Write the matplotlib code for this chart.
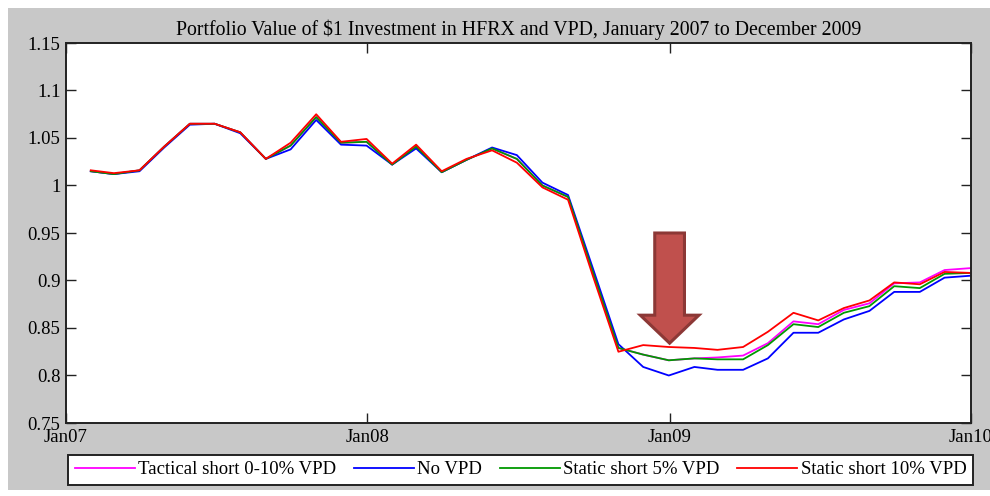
import numpy as np
import pandas as pd
import matplotlib
matplotlib.use("Agg")
import matplotlib.pyplot as plt
import matplotlib.dates as mdates
import matplotlib.patches as mpatches

plt.rcParams['font.family'] = ['Liberation Serif', 'DejaVu Serif']

# Month-end dates Jan 2007 .. Dec 2009
dates = pd.date_range("2007-01-31", "2009-12-31", freq="ME")

no_vpd = [1.015, 1.012, 1.015, 1.040, 1.064, 1.065, 1.055, 1.028, 1.038, 1.069,
          1.043, 1.042, 1.022, 1.039, 1.014, 1.027, 1.040, 1.032, 1.003, 0.990,
          0.913, 0.833, 0.809, 0.800, 0.809, 0.806, 0.806, 0.818, 0.845, 0.845,
          0.859, 0.868, 0.888, 0.888, 0.903, 0.905]
static_5 = [1.015, 1.012, 1.016, 1.041, 1.065, 1.065, 1.056, 1.028, 1.042, 1.072,
            1.045, 1.046, 1.022, 1.041, 1.014, 1.027, 1.039, 1.028, 1.000, 0.988,
            0.909, 0.829, 0.822, 0.816, 0.818, 0.817, 0.817, 0.832, 0.854, 0.851,
            0.866, 0.873, 0.894, 0.892, 0.907, 0.908]
static_10 = [1.016, 1.013, 1.016, 1.041, 1.065, 1.065, 1.056, 1.028, 1.045, 1.075,
             1.046, 1.049, 1.023, 1.043, 1.015, 1.028, 1.037, 1.024, 0.998, 0.985,
             0.905, 0.825, 0.832, 0.830, 0.829, 0.827, 0.830, 0.846, 0.866, 0.858,
             0.871, 0.879, 0.898, 0.896, 0.909, 0.908]
tactical = [1.015, 1.012, 1.016, 1.041, 1.065, 1.065, 1.056, 1.028, 1.042, 1.072,
            1.045, 1.046, 1.022, 1.041, 1.014, 1.027, 1.039, 1.028, 1.000, 0.988,
            0.909, 0.829, 0.822, 0.816, 0.818, 0.819, 0.821, 0.834, 0.857, 0.854,
            0.869, 0.876, 0.897, 0.898, 0.911, 0.913]

series = [
    ("Tactical short 0-10% VPD", tactical, "#FF00FF"),
    ("No VPD", no_vpd, "#0000FF"),
    ("Static short 5% VPD", static_5, "#009900"),
    ("Static short 10% VPD", static_10, "#FF0000"),
]

x_ticks = pd.to_datetime(["2007-01-01", "2008-01-01", "2009-01-01", "2010-01-01"])
x_labels = ["Jan07", "Jan08", "Jan09", "Jan10"]
y_ticks = [0.75, 0.8, 0.85, 0.9, 0.95, 1, 1.05, 1.1, 1.15]
y_labels = ["0.75", "0.8", "0.85", "0.9", "0.95", "1", "1.05", "1.1", "1.15"]

fig = plt.figure(figsize=(9.9, 4.96), dpi=100, facecolor="white")
# gray panel behind everything
fig.patches.append(mpatches.Rectangle((8 / 990, 6 / 496), 1 - 8 / 990, 482 / 496,
                                      transform=fig.transFigure, facecolor="#C8C8C8",
                                      edgecolor="none", zorder=-10))

ax = fig.add_axes([66 / 990, 1 - 423 / 496, (971 - 66) / 990, (423 - 43) / 496])
ax.set_facecolor("white")

for name, vals, col in series:
    ax.plot(dates, vals, color=col, lw=1.3, label=name)

ax.set_xlim(x_ticks[0], x_ticks[-1])
ax.set_ylim(0.75, 1.15)
ax.set_xticks(x_ticks)
ax.set_xticklabels(x_labels)
ax.set_yticks(y_ticks)
ax.set_yticklabels(y_labels)
ax.tick_params(direction="in", length=7, width=1, top=True, right=True,
               labelsize=13.5, pad=4, color="#222222")
for s in ax.spines.values():
    s.set_linewidth(1.4)
    s.set_color("#222222")

ax.set_title("Portfolio Value of $1 Investment in HFRX and VPD, January 2007 to December 2009",
             fontsize=14.3, pad=6)

# big red arrow pointing at Jan09
xc = mdates.date2num(pd.Timestamp("2009-01-01"))
arrow = mpatches.FancyArrow(xc, 0.950, 0, -0.116, width=36, head_width=71,
                            head_length=0.0295, length_includes_head=True,
                            facecolor="#C0504D", edgecolor="#8C3836", lw=2.2,
                            zorder=5)
ax.add_patch(arrow)

leg = fig.legend(loc="lower left", bbox_to_anchor=(68 / 990, 1 - 485 / 496, (973 - 68) / 990, 34 / 496),
                 mode="expand", ncol=4, fontsize=13.5, frameon=True, fancybox=False,
                 framealpha=1, facecolor="white",
                 handlelength=3.2, handletextpad=0.2, columnspacing=0.6,
                 borderaxespad=0, borderpad=0.35)
leg.get_frame().set_edgecolor("#222222")
leg.get_frame().set_linewidth(1.4)

fig.savefig("out.png", dpi=100, facecolor="white")
